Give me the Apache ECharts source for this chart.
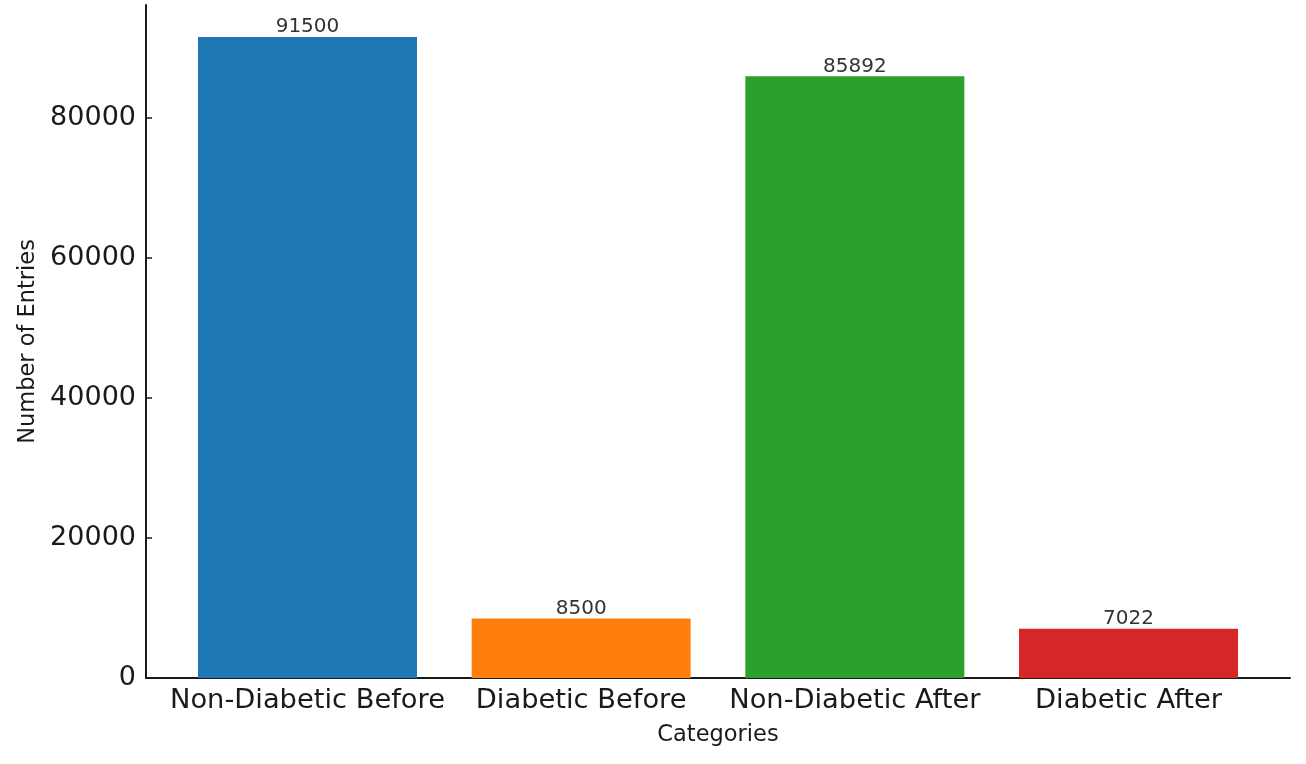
<!DOCTYPE html>
<html>
<head>
<meta charset="utf-8">
<script src="https://cdn.jsdelivr.net/npm/echarts@6/dist/echarts.min.js"></script>
<style>
  html, body { margin: 0; padding: 0; background: #fff; }
  #chart { width: 1306px; height: 764px; }
</style>
</head>
<body>
<div id="chart"></div>
<script>
// 数据
const categories = ['Non-Diabetic Before', 'Diabetic Before', 'Non-Diabetic After', 'Diabetic After']
const counts = [91500, 8500, 85892, 7022]
const colors = ['#1f77b4', '#ff7f0e', '#2ca02c', '#d62728']
const yTicks = [0, 20000, 40000, 60000, 80000]

const font = 'DejaVu Sans'
const positions = categories.map((c, i) => i)

const chart = echarts.init(document.getElementById('chart'))

const option = {
    backgroundColor: '#fff',
    animation: false,
    grid: { left: 146, right: 16, top: 5, bottom: 86 },
    xAxis: {
        type: 'value',
        min: -0.59,
        max: 3.59,
        name: 'Categories',
        nameLocation: 'middle',
        nameGap: 46,
        nameTextStyle: { fontFamily: font, fontSize: 22.5, color: '#1a1a1a' },
        axisLine: { show: true, lineStyle: { color: '#1a1a1a', width: 2 } },
        axisTick: { show: false },
        splitLine: { show: false },
        axisLabel: {
            customValues: positions,
            margin: 9,
            fontFamily: font,
            fontSize: 27.3,
            color: '#1a1a1a',
            formatter: v => categories[Math.round(v)] || ''
        }
    },
    yAxis: {
        type: 'value',
        min: 0,
        max: 96075,
        name: 'Number of Entries',
        nameLocation: 'middle',
        nameGap: 97,
        nameTextStyle: { fontFamily: font, fontSize: 22.5, color: '#1a1a1a' },
        axisLine: { show: true, onZero: false, lineStyle: { color: '#1a1a1a', width: 2 } },
        axisTick: { show: true, inside: true, length: 6, customValues: yTicks, lineStyle: { color: '#1a1a1a', width: 1.5 } },
        splitLine: { show: false },
        axisLabel: {
            customValues: yTicks,
            margin: 10,
            fontFamily: font,
            fontSize: 27,
            color: '#1a1a1a',
            formatter: v => String(v)
        }
    },
    series: [{
        type: 'bar',
        barWidth: 219,
        data: counts.map((v, i) => ({ value: [i, v], itemStyle: { color: colors[i] } })),
        label: {
            show: true,
            position: 'top',
            distance: 0,
            fontFamily: font,
            fontSize: 20,
            color: '#333',
            formatter: p => p.value[1]
        }
    }]
}

chart.setOption(option)
</script>
</body>
</html>
